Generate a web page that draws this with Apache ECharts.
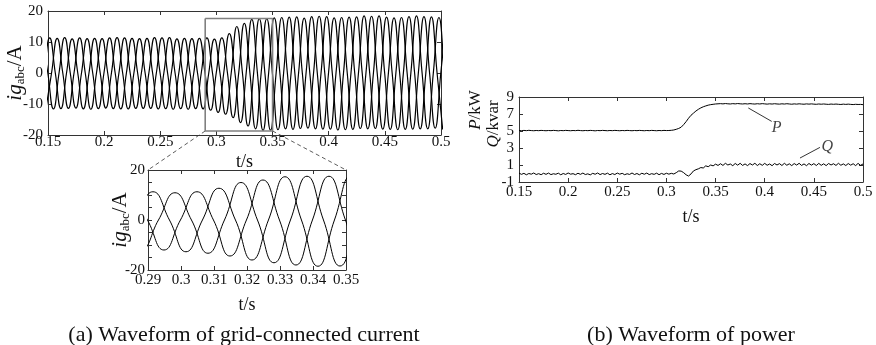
<!DOCTYPE html>
<html>
<head>
<meta charset="utf-8">
<script src="https://cdn.jsdelivr.net/npm/echarts@6/dist/echarts.min.js"></script>
<style>
  html, body { margin: 0; padding: 0; background: #fff; }
  #chart { width: 876px; height: 345px; }
</style>
</head>
<body>
<div id="chart"></div>
<script>
// ---- Grid-connected current: signed peak value of every half cycle (A), 50 Hz ----
const halfPeriod = 0.01;                       // s between successive peaks of one phase
const phaseStart = [0.1415, 0.14817, 0.14483]; // time of the first listed peak of each phase

const phaseA = [-11.4, 11.3, -11.5, 11.0, -11.6, 11.2, -11.3, 11.4, -11.6, 11.1,
                -11.4, 11.3, -11.7, 11.2, -11.5, 11.3, -12.7, 12.7, -16.0, 17.3,
                -18.5, 17.8, -18.0, 18.1, -17.8, 18.3, -18.1, 17.9, -18.2, 18.4,
                -17.9, 18.0, -18.3, 18.2, -18.0, 18.1, -18.2];
const phaseB = [-11.5, 11.2, -11.4, 11.3, -11.7, 11.1, -11.5, 11.3, -11.4, 11.2,
                -11.6, 11.4, -11.5, 11.1, -11.6, 10.9, -13.3, 15.0, -17.1, 17.5,
                -18.4, 17.9, -18.2, 17.7, -18.0, 18.2, -18.4, 18.0, -17.9, 18.3,
                -18.1, 17.8, -18.2, 18.4, -18.0, 17.9, -18.1];
const phaseC = [11.2, -11.6, 11.4, -11.3, 11.1, -11.5, 11.3, -11.6, 11.2, -11.4,
                11.4, -11.5, 11.0, -11.7, 11.2, -12.0, 11.3, -14.4, 16.0, -18.0,
                17.5, -18.3, 18.0, -17.9, 18.2, -18.1, 17.8, -18.3, 18.1, -18.0,
                18.4, -18.2, 17.9, -18.1, 18.2, -17.8, 18.0];

// window shown enlarged below panel (a)
const zoomT = [0.29, 0.35];
const zoomI = [-18.7, 17.6];

// ---- Power: samples every 2.5 ms from 0.15 s ----
const pqStart = 0.15;
const pqStep = 0.0025;
const powerP = [
  5.06, 5.03, 5.07, 5.04, 5.08, 5.05, 5.03, 5.06, 5.04, 5.07,
  5.05, 5.03, 5.06, 5.04, 5.07, 5.05, 5.02, 5.06, 5.04, 5.07,
  5.05, 5.03, 5.06, 5.04, 5.08, 5.05, 5.03, 5.06, 5.04, 5.07,
  5.05, 5.02, 5.06, 5.04, 5.07, 5.05, 5.03, 5.06, 5.04, 5.07,
  5.05, 5.03, 5.06, 5.04, 5.07, 5.05, 5.03, 5.06, 5.04, 5.07,
  5.05, 5.03, 5.06, 5.04, 5.07, 5.05, 5.03, 5.06, 5.04, 5.07,
  5.05, 5.06,
  5.08, 5.12, 5.20, 5.30, 5.45, 5.75, 6.10, 6.50, 6.85, 7.10,
  7.35, 7.55, 7.72, 7.85, 7.95, 8.04, 8.10, 8.14, 8.18, 8.20,
  8.22, 8.19, 8.23, 8.20, 8.18, 8.22, 8.19, 8.23, 8.20, 8.18,
  8.21, 8.18, 8.22, 8.19, 8.17, 8.21, 8.18, 8.22, 8.19, 8.16,
  8.20, 8.17, 8.21, 8.18, 8.16, 8.20, 8.17, 8.21, 8.18, 8.15,
  8.19, 8.16, 8.20, 8.17, 8.15, 8.19, 8.16, 8.19, 8.16, 8.14,
  8.18, 8.15, 8.18, 8.15, 8.13, 8.17, 8.14, 8.17, 8.14, 8.12,
  8.16, 8.13, 8.16, 8.13, 8.11, 8.14, 8.12, 8.13, 8.10
];
const powerQ = [
  0.05, -0.10, 0.02, -0.15, 0.00, -0.08, 0.06, -0.12, -0.02, -0.14,
  0.03, -0.10, 0.05, -0.13, -0.03, -0.09, 0.04, -0.15, 0.00, -0.11,
  0.06, -0.08, -0.02, -0.14, 0.03, -0.10, 0.05, -0.12, -0.04, -0.16,
  0.02, -0.09, 0.06, -0.13, 0.00, -0.10, 0.04, -0.15, -0.01, -0.12,
  0.05, -0.08, 0.02, -0.14, -0.03, -0.11, 0.06, -0.12, 0.00, -0.15,
  0.03, -0.09, 0.05, -0.13, -0.02, -0.10, 0.04, -0.14, 0.01, -0.11,
  0.03, -0.08, 0.02, -0.06,
  0.10, 0.30, 0.28, 0.10, -0.15, -0.30, -0.05, 0.30, 0.45, 0.55,
  0.70, 0.65, 0.90, 0.80, 1.00, 0.90, 1.10, 0.95,
  1.15, 0.95, 1.20, 1.00, 1.12, 0.92, 1.18, 0.98, 1.20, 0.95,
  1.13, 0.93, 1.17, 1.00, 1.20, 0.94, 1.15, 0.96, 1.19, 0.97,
  1.12, 0.92, 1.18, 1.00, 1.16, 0.94, 1.20, 0.97, 1.14, 0.93,
  1.17, 0.99, 1.20, 0.95, 1.13, 0.92, 1.18, 0.98, 1.16, 0.94,
  1.19, 0.96, 1.14, 0.93, 1.18, 1.00, 1.15, 0.95, 1.20, 0.97,
  1.13, 0.94, 1.17, 0.98, 1.15, 0.93, 1.19, 0.96, 1.12
];

// leader lines and names of the power curves
const leaderP = [[0.3833, 7.71], [0.4071, 6.13]];
const leaderQ = [[0.4359, 1.82], [0.4562, 3.07]];
const tagP = [0.4122, 5.35];
const tagQ = [0.4637, 3.19];

// axis ranges and tick steps
const timeRange = [0.15, 0.5], timeStep = 0.05;
const zoomStep = 0.01;
const currentRange = [-20, 20], currentStep = 10;
const insetCurrentStep = 5;
const insetCurrentLabels = [-20, 0, 20];
const powerRange = [-1, 9], powerStep = 2;

// ---------------------------------------------------------------
const FONT = 'Liberation Serif';
const INK = '#111';
const FRAME = '#333';

function wavePoints(start, peaks) {
  const pts = [];
  peaks.forEach((v, k) => {
    const t = start + k * halfPeriod;
    if (k > 0) pts.push([t - halfPeriod / 2, 0]);   // zero crossing between peaks
    pts.push([t, v]);
  });
  return pts;
}
function sampled(values) {
  return values.map((v, i) => [+(pqStart + i * pqStep).toFixed(4), v]);
}
const fmtNum = v => String(+v.toFixed(2));

function axis(kind, grid, position, range, step, showLabel, extra, margin) {
  return Object.assign({
    type: 'value', gridIndex: grid, position: position,
    min: range[0], max: range[1], interval: step,
    nameMoveOverlap: false,
    axisLine: { show: true, onZero: false, lineStyle: { color: FRAME, width: 1 } },
    axisTick: { show: true, inside: true, length: 4, lineStyle: { color: FRAME, width: 1 } },
    splitLine: { show: false },
    axisLabel: {
      show: showLabel, margin: margin != null ? margin : (kind === 'x' ? 3 : 5),
      fontFamily: FONT, fontSize: 15, color: INK,
      formatter: fmtNum, hideOverlap: false, showMinLabel: true, showMaxLabel: true
    }
  }, extra || {});
}

const currentName = '{i|ig}{s|abc}{n|/A}';
const currentNameStyle = {
  fontFamily: FONT, color: INK, lineHeight: 26,
  rich: {
    i: { fontFamily: FONT, fontStyle: 'italic', fontSize: 21, lineHeight: 22, verticalAlign: 'top', color: INK },
    s: { fontFamily: FONT, fontSize: 13, lineHeight: 13, verticalAlign: 'bottom', color: INK },
    n: { fontFamily: FONT, fontSize: 21, lineHeight: 22, verticalAlign: 'top', color: INK }
  }
};
const tsName = { name: 't/s', nameLocation: 'middle', nameTextStyle: { fontFamily: FONT, fontSize: 18, color: INK } };

const chart = echarts.init(document.getElementById('chart'), null, { renderer: 'canvas' });

const waveLine = (data, xi, yi, w) => ({
  type: 'line', xAxisIndex: xi, yAxisIndex: yi, data: data, smooth: 0.5,
  showSymbol: false, symbol: 'none', silent: true, clip: true,
  lineStyle: { color: '#000', width: w }
});

const phases = [phaseA, phaseB, phaseC].map((p, i) => wavePoints(phaseStart[i], p));

const option = {
  animation: false,
  backgroundColor: '#fff',
  grid: [
    { left: 48, top: 11, width: 393, height: 124, containLabel: false, outerBoundsMode: 'none' },
    { left: 148, top: 170, width: 198, height: 100, containLabel: false, outerBoundsMode: 'none' },
    { left: 519, top: 97, width: 344, height: 85, containLabel: false, outerBoundsMode: 'none' }
  ],
  xAxis: [
    axis('x', 0, 'bottom', timeRange, timeStep, true, Object.assign({ nameGap: 18 }, tsName), 0),
    axis('x', 0, 'top', timeRange, timeStep, false),
    axis('x', 1, 'bottom', zoomT, zoomStep, true, Object.assign({ nameGap: 26 }, tsName)),
    axis('x', 1, 'top', zoomT, zoomStep, false),
    axis('x', 2, 'bottom', timeRange, timeStep, true, Object.assign({ nameGap: 26 }, tsName)),
    axis('x', 2, 'top', timeRange, timeStep, false)
  ],
  yAxis: [
    axis('y', 0, 'left', currentRange, currentStep, true, {
      name: currentName, nameLocation: 'middle', nameRotate: 90, nameGap: 21, nameTextStyle: currentNameStyle
    }),
    axis('y', 0, 'right', currentRange, currentStep, false),
    axis('y', 1, 'left', currentRange, insetCurrentStep, true, {
      name: currentName, nameLocation: 'middle', nameRotate: 90, nameGap: 16, nameTextStyle: currentNameStyle,
      axisLabel: {
        show: true, margin: 3, fontFamily: FONT, fontSize: 15, color: INK, hideOverlap: false,
        showMinLabel: true, showMaxLabel: true,
        formatter: v => (insetCurrentLabels.indexOf(v) >= 0 ? String(v) : '')
      }
    }),
    axis('y', 1, 'right', currentRange, insetCurrentStep, false),
    axis('y', 2, 'left', powerRange, powerStep, true),
    axis('y', 2, 'right', powerRange, powerStep, false)
  ],
  series: [
    waveLine(phases[0], 0, 0, 1.2),
    waveLine(phases[1], 0, 0, 1.2),
    waveLine(phases[2], 0, 0, 1.2),
    {
      type: 'line', xAxisIndex: 0, yAxisIndex: 0, silent: true, symbol: 'none',
      data: [[zoomT[0], zoomI[1]], [zoomT[1], zoomI[1]], [zoomT[1], zoomI[0]], [zoomT[0], zoomI[0]], [zoomT[0], zoomI[1]]],
      lineStyle: { color: '#808080', width: 1.6 }, z: 5
    },
    waveLine(phases[0], 2, 2, 1),
    waveLine(phases[1], 2, 2, 1),
    waveLine(phases[2], 2, 2, 1),
    {
      type: 'line', xAxisIndex: 4, yAxisIndex: 4, data: sampled(powerP), symbol: 'none', silent: true,
      lineStyle: { color: '#000', width: 1 }
    },
    {
      type: 'line', xAxisIndex: 4, yAxisIndex: 4, data: sampled(powerQ), symbol: 'none', silent: true,
      lineStyle: { color: '#000', width: 1 }
    },
    {
      type: 'line', xAxisIndex: 4, yAxisIndex: 4, data: leaderP, symbol: 'none', silent: true,
      lineStyle: { color: '#000', width: 0.8 }
    },
    {
      type: 'line', xAxisIndex: 4, yAxisIndex: 4, data: leaderQ, symbol: 'none', silent: true,
      lineStyle: { color: '#000', width: 0.8 }
    },
    {
      type: 'scatter', xAxisIndex: 4, yAxisIndex: 4, symbolSize: 0, silent: true,
      data: [{ value: tagP, name: 'P' }, { value: tagQ, name: 'Q' }],
      label: {
        show: true, position: 'inside', formatter: '{b}',
        fontFamily: FONT, fontStyle: 'italic', fontSize: 16, color: INK
      }
    }
  ]
};
chart.setOption(option);

// dashed connectors from the marked window to the enlarged panel, and captions
const a0 = chart.convertToPixel({ gridIndex: 0 }, [zoomT[0], zoomI[0]]);
const a1 = chart.convertToPixel({ gridIndex: 0 }, [zoomT[1], zoomI[0]]);
const b0 = chart.convertToPixel({ gridIndex: 1 }, [zoomT[0], currentRange[1]]);
const b1 = chart.convertToPixel({ gridIndex: 1 }, [zoomT[1], currentRange[1]]);
const dash = { stroke: '#333', lineWidth: 0.8, lineDash: [4, 3] };

chart.setOption({
  graphic: [
    { type: 'line', shape: { x1: a0[0], y1: a0[1], x2: b0[0], y2: b0[1] }, style: dash, silent: true },
    { type: 'line', shape: { x1: a1[0], y1: a1[1], x2: b1[0], y2: b1[1] }, style: dash, silent: true },
    {
      type: 'text', x: 476, y: 110, rotation: Math.PI / 2, silent: true,
      style: {
        text: '{i|P}{n|/kW}', align: 'center', verticalAlign: 'middle',
        rich: {
          i: { fontFamily: FONT, fontStyle: 'italic', fontSize: 17, fill: INK },
          n: { fontFamily: FONT, fontSize: 17, fill: INK }
        }
      }
    },
    {
      type: 'text', x: 494, y: 124, rotation: Math.PI / 2, silent: true,
      style: {
        text: '{i|Q}{n|/kvar}', align: 'center', verticalAlign: 'middle',
        rich: {
          i: { fontFamily: FONT, fontStyle: 'italic', fontSize: 17, fill: INK },
          n: { fontFamily: FONT, fontSize: 17, fill: INK }
        }
      }
    },
    {
      type: 'text', x: 244, y: 335, silent: true,
      style: { text: '(a) Waveform of grid-connected current', fontFamily: FONT, fontSize: 22, fill: INK, align: 'center', verticalAlign: 'middle' }
    },
    {
      type: 'text', x: 691, y: 335, silent: true,
      style: { text: '(b) Waveform of power', fontFamily: FONT, fontSize: 22, fill: INK, align: 'center', verticalAlign: 'middle' }
    }
  ]
});
</script>
</body>
</html>
